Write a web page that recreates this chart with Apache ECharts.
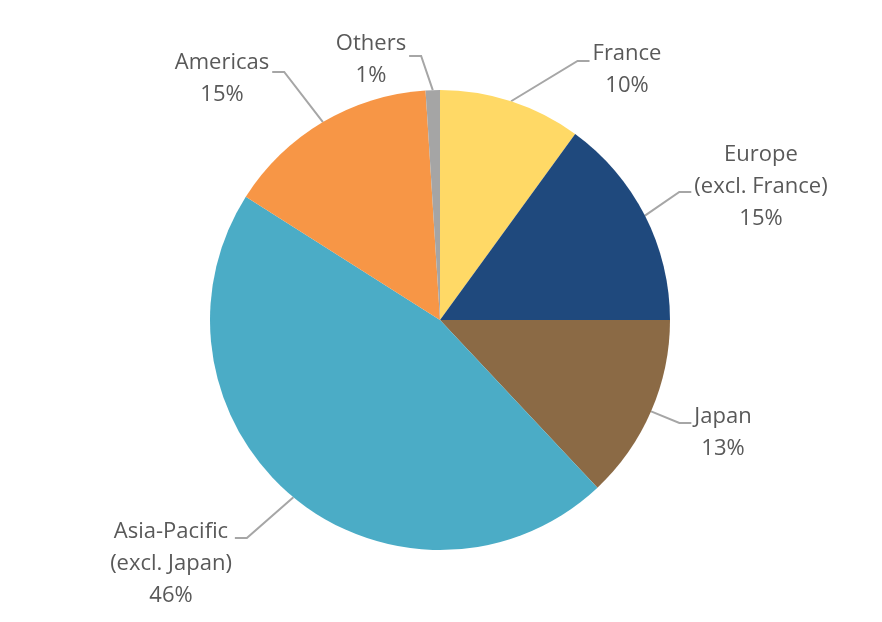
<!DOCTYPE html>
<html>
<head>
<meta charset="utf-8">
<script src="https://cdn.jsdelivr.net/npm/echarts@6/dist/echarts.min.js"></script>
<style>
html,body{margin:0;padding:0;background:#fff;}
#chart{width:882px;height:622px;}
</style>
</head>
<body>
<div id="chart"></div>
<script>
// ---- data ----
var categories = ['France', 'Europe\n(excl. France)', 'Japan', 'Asia-Pacific\n(excl. Japan)', 'Americas', 'Others'];
var shares = [10, 15, 13, 46, 15, 1];
var sliceColors = ['#FFD966', '#1F497D', '#8B6A45', '#4BACC6', '#F79646', '#A5A5A5'];

// ---- layout constants (label block centre-x, block top, leader attach offset, side) ----
var labelPlace = [
  {x: 627, y: 38, attach: 23, side: 1},
  {x: 761, y: 139, attach: 53, side: 1},
  {x: 723, y: 401, attach: 22, side: 1},
  {x: 171, y: 516, attach: 22, side: -1},
  {x: 222, y: 47, attach: 25, side: -1},
  {x: 371, y: 28, attach: 28, side: -1}
];

var chart = echarts.init(document.getElementById('chart'), null, {renderer: 'canvas'});

var seriesData = categories.map(function (c, i) {
  return {name: c, value: shares[i], itemStyle: {color: sliceColors[i]}};
});

chart.setOption({
  animation: false,
  backgroundColor: '#ffffff',
  series: [{
    type: 'pie',
    center: [440, 320],
    radius: 230,
    startAngle: 90,
    clockwise: true,
    avoidLabelOverlap: false,
    data: seriesData,
    itemStyle: {borderWidth: 0},
    label: {
      show: true,
      position: 'outside',
      formatter: function (p) {
        return p.name.split('\n').map(function (s) { return '{t|' + s + '}'; }).join('\n') + '\n{t|' + p.value + '%}';
      },
      rich: {
        t: {
          fontFamily: 'Open Sans',
          fontSize: 22,
          color: '#595959',
          lineHeight: 32,
          align: 'center'
        }
      }
    },
    labelLine: {
      show: true,
      length: 20,
      length2: 12,
      lineStyle: {color: '#A6A6A6', width: 2}
    },
    labelLayout: function (params) {
      var p = labelPlace[params.dataIndex];
      var w = params.labelRect.width;
      var start = params.labelLinePoints ? params.labelLinePoints[0] : null;
      var edgeX = p.side > 0 ? p.x - w / 2 - 3 : p.x + w / 2 + 3;
      var ly = p.y + p.attach;
      var res = {x: p.x - w / 2, y: p.y, align: 'left', verticalAlign: 'top'};
      if (start) {
        res.labelLinePoints = [
          [start[0], start[1]],
          [edgeX - p.side * 12, ly],
          [edgeX, ly]
        ];
      }
      return res;
    }
  }]
});
</script>
</body>
</html>
